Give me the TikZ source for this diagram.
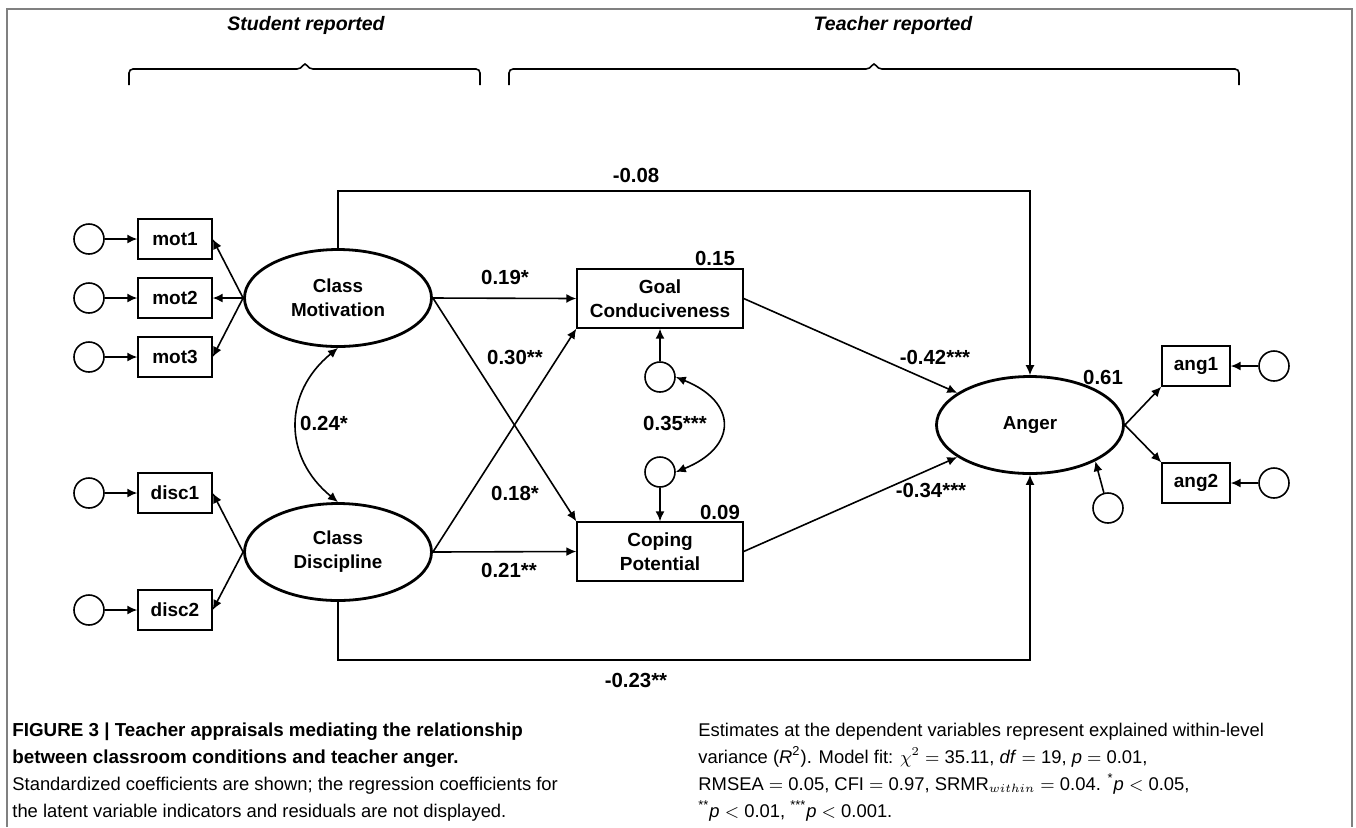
\documentclass[tikz,border=0pt]{standalone}
\usepackage{fontspec}
\setmainfont{Liberation Sans}
\usetikzlibrary{arrows.meta,shapes.geometric,positioning}

\tikzset{
  latent/.style={ellipse, draw, line width=1.4pt, minimum width=93.5pt, minimum height=48.5pt, inner sep=0pt, align=center, font=\fontsize{9.4}{12}\selectfont\bfseries},
  appraisal/.style={rectangle, draw, line width=0.7pt, minimum width=83pt, minimum height=29.5pt, inner sep=0pt, align=center, font=\fontsize{9.5}{12}\selectfont\bfseries},
  indic/.style={rectangle, draw, line width=0.7pt, minimum width=37pt, minimum height=20pt, inner sep=0pt, font=\fontsize{9.5}{11}\selectfont\bfseries},
  resid/.style={circle, draw, line width=0.8pt, minimum size=15pt, inner sep=0pt},
  coef/.style={inner sep=0pt, font=\fontsize{10.2}{12}\selectfont\bfseries},
  reg/.style={-{Latex[length=5pt,width=4.5pt]}, line width=0.8pt},
  cov/.style={{Latex[length=5pt,width=4.5pt]}-{Latex[length=5pt,width=4.5pt]}, line width=0.8pt},
  grouphead/.style={inner sep=0pt, font=\fontsize{9.75}{11}\selectfont\bfseries\itshape},
  captext/.style={anchor=base west, inner sep=0pt, font=\fontsize{9.2}{11}\selectfont},
  capbold/.style={captext, font=\fontsize{9.4}{11}\selectfont\bfseries}
}

\begin{document}
\begin{tikzpicture}[x=0.5pt,y=-0.5pt]
  \useasboundingbox (0,0) rectangle (1356,827);
  \draw[gray, line width=1pt] (7,827) -- (7,9) -- (1352,9) -- (1352,827);

  % who reported what
  \node[grouphead] (stud) at (306,25) {Student reported};
  \node[grouphead] (teach) at (893,25) {Teacher reported};
  \draw[line width=0.8pt, rounded corners=2pt] (129,85) -- (129,69) -- (301,69) -- (305,62) -- (309,69) -- (480,69) -- (480,85);
  \draw[line width=0.8pt, rounded corners=2pt] (509,85) -- (509,69) -- (870,69) -- (874,62) -- (878,69) -- (1239,69) -- (1239,85);

  % latent variables and appraisals
  \node[latent] (mot) at (338,298) {Class\\Motivation};
  \node[latent] (disc) at (338,552) {Class\\Discipline};
  \node[latent] (anger) at (1030,425) {Anger};
  \node[appraisal] (goal) at (660,298.5) {Goal\\Conduciveness};
  \node[appraisal] (cope) at (660,551.5) {Coping\\Potential};

  % indicators
  \foreach \k/\yy in {1/239,2/298,3/357}{
    \node[indic] (mot\k) at (175,\yy) {mot\k};
    \node[resid] (emot\k) at (89,\yy) {};
  }
  \foreach \k/\yy in {1/493,2/610}{
    \node[indic] (disc\k) at (175,\yy) {disc\k};
    \node[resid] (edisc\k) at (89,\yy) {};
  }
  \foreach \k/\yy in {1/366,2/483}{
    \node[indic, minimum width=34pt] (ang\k) at (1196,\yy) {ang\k};
    \node[resid] (eang\k) at (1274,\yy) {};
  }
  \node[resid] (egoal) at (660,377) {};
  \node[resid] (ecope) at (660,472) {};
  \node[resid] (eanger) at (1108,508) {};

  \foreach \k in {1,2,3}{
    \draw[reg] (emot\k) -- (mot\k);
    \draw[reg] (mot.west) -- (mot\k.east);
  }
  \foreach \k in {1,2}{
    \draw[reg] (edisc\k) -- (disc\k);
    \draw[reg] (disc.west) -- (disc\k.east);
    \draw[reg] (eang\k) -- (ang\k);
  }
  \draw[reg] (anger.east) -- (ang1.south west);
  \draw[reg] (anger.east) -- (ang2.north west);

  % structural paths
  \coordinate (topy) at (0,191);
  \coordinate (boty) at (0,660);
  \draw[reg, line width=0.6pt] (mot.north) -- (mot.north |- topy) -| (anger.north);
  \draw[reg, line width=0.6pt] (disc.south) -- (disc.south |- boty) -| (anger.south);
  \draw[reg] (mot.east) -- (goal.west);
  \draw[reg] (mot.east) -- (cope.north west);
  \draw[reg] (disc.east) -- (goal.south west);
  \draw[reg] (disc.east) -- (cope.west);
  \draw[reg] (goal.east) -- (anger);
  \draw[reg] (cope.east) -- (anger);
  \draw[reg] (egoal) -- (goal);
  \draw[reg] (ecope) -- (cope);
  \draw[reg] (eanger) -- (anger.-29);
  \draw[cov] (mot.south) .. controls +(-55,45) and +(-55,-45) .. (disc.north);
  \draw[cov] (egoal.east) .. controls +(62,25) and +(62,-25) .. (ecope.east);

  % coefficients
  \node[coef] (c08) at (636,175) {-0.08};
  \node[coef] (c19) at (505,277) {0.19*};
  \node[coef] (r15) at (715,258) {0.15};
  \node[coef] (c30) at (515,357) {0.30**};
  \node[coef] (c24) at (324,423) {0.24*};
  \node[coef] (c35) at (675,423) {0.35***};
  \node[coef] (c18) at (515,493) {0.18*};
  \node[coef] (r09) at (720,512) {0.09};
  \node[coef] (c21) at (509,570) {0.21**};
  \node[coef] (c42) at (935,357) {-0.42***};
  \node[coef] (c34) at (931,490) {-0.34***};
  \node[coef] (r61) at (1103,377) {0.61};
  \node[coef] (c23) at (636,680) {-0.23**};

  % caption
  \node[capbold] (capa) at (12,736) {FIGURE 3 | Teacher appraisals mediating the relationship};
  \node[capbold] (capb) at (12,763) {between classroom conditions and teacher anger.};
  \node[captext] (capc) at (12,790) {Standardized coefficients are shown; the regression coefficients for};
  \node[captext] (capd) at (12,817) {the latent variable indicators and residuals are not displayed.};
  \node[captext] (cape) at (698,736) {Estimates at the dependent variables represent explained within-level};
  \node[captext] (capf) at (698,763) {variance (\textit{R}\textsuperscript{2}). Model fit: $\chi^2$ $=$ 35.11, \textit{df} $=$ 19, \textit{p} $=$ 0.01,};
  \node[captext] (capg) at (698,790) {RMSEA $=$ 0.05, CFI $=$ 0.97, SRMR$_{within}$ $=$ 0.04. \textsuperscript{*}\textit{p} $<$ 0.05,};
  \node[captext] (caph) at (698,817) {\textsuperscript{**}\textit{p} $<$ 0.01, \textsuperscript{***}\textit{p} $<$ 0.001.};
\end{tikzpicture}
\end{document}
